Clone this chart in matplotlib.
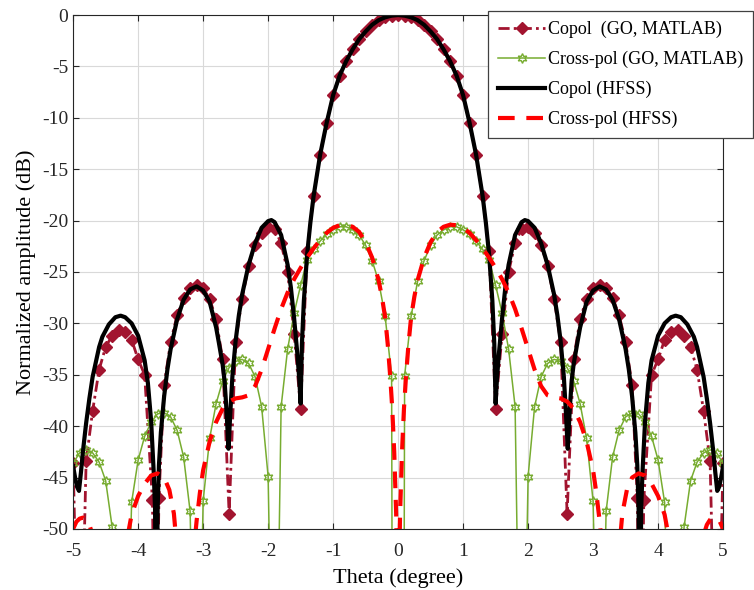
import numpy as np
import matplotlib.pyplot as plt

plt.rcParams['font.family'] = ['Liberation Serif', 'DejaVu Serif']

# GO (MATLAB) copol pattern
go_co_theta = [-5.0, -4.9, -4.8, -4.7, -4.6, -4.5, -4.4, -4.3, -4.2, -4.1, -4.0, -3.9,
               -3.78, -3.73, -3.68, -3.6, -3.5, -3.4, -3.3, -3.2, -3.1, -3.0, -2.9, -2.8,
               -2.7, -2.6, -2.5, -2.4, -2.3, -2.2, -2.1, -2.0, -1.9, -1.8, -1.7, -1.6,
               -1.5, -1.4, -1.3, -1.2, -1.1, -1.0, -0.9, -0.8, -0.7, -0.6, -0.5, -0.4,
               -0.3, -0.2, -0.1, 0.0, 0.1, 0.2, 0.3, 0.4, 0.5, 0.6, 0.7, 0.8, 0.9, 1.0,
               1.1, 1.2, 1.3, 1.4, 1.5, 1.6, 1.7, 1.8, 1.9, 2.0, 2.1, 2.2, 2.3, 2.4, 2.5,
               2.6, 2.7, 2.8, 2.9, 3.0, 3.1, 3.2, 3.3, 3.4, 3.5, 3.6, 3.68, 3.73, 3.78,
               3.9, 4.0, 4.1, 4.2, 4.3, 4.4, 4.5, 4.6, 4.7, 4.8, 4.9, 5.0]
go_co_db = [-43.6, -70, -43.4, -38.5, -34.5, -32.3, -31.2, -30.6, -30.8, -31.6, -33.5, -35.0,
            -47.2, -70, -47.0, -36.0, -31.8, -29.2, -27.5, -26.6, -26.3, -26.6, -27.6, -29.6,
            -33.5, -48.5, -31.8, -27.6, -24.4, -22.4, -21.2, -20.6, -20.8, -22.2, -25.0, -31.0,
            -38.3, -23.0, -17.6, -13.6, -10.5, -7.8, -5.9, -4.5, -3.35, -2.35, -1.6, -0.95,
            -0.5, -0.22, -0.06, 0.0, -0.06, -0.22, -0.5, -0.95, -1.6, -2.35, -3.35, -4.5, -5.9, -7.8,
            -10.5, -13.6, -17.6, -23.0, -38.3, -31.0, -25.0, -22.2, -20.8, -20.6, -21.2, -22.4, -24.4, -27.6, -31.8,
            -48.5, -33.5, -29.6, -27.6, -26.6, -26.3, -26.6, -27.5, -29.2, -31.8, -36.0, -47.0, -70, -47.2,
            -35.0, -33.5, -31.6, -30.8, -30.6, -31.2, -32.3, -34.5, -38.5, -43.4, -70, -43.6]

# GO (MATLAB) cross-pol pattern
go_x_theta = [-5.0, -4.9, -4.8, -4.7, -4.6, -4.5, -4.4, -4.3, -4.2, -4.1, -4.0, -3.9, -3.8,
              -3.7, -3.6, -3.5, -3.4, -3.3, -3.2, -3.1, -3.0, -2.9, -2.8, -2.7, -2.6, -2.5,
              -2.4, -2.3, -2.2, -2.1, -2.0, -1.9, -1.8, -1.7, -1.6, -1.5, -1.4, -1.3, -1.2,
              -1.1, -1.0, -0.9, -0.8, -0.7, -0.6, -0.5, -0.4, -0.3, -0.2, -0.1, 0.0,
              0.1, 0.2, 0.3, 0.4, 0.5, 0.6, 0.7, 0.8, 0.9, 1.0, 1.1, 1.2, 1.3, 1.4, 1.5,
              1.6, 1.7, 1.8, 1.9, 2.0, 2.1, 2.2, 2.3, 2.4, 2.5, 2.6, 2.7, 2.8, 2.9, 3.0,
              3.1, 3.2, 3.3, 3.4, 3.5, 3.6, 3.7, 3.8, 3.9, 4.0, 4.1, 4.2, 4.3, 4.4, 4.5,
              4.6, 4.7, 4.8, 4.9, 5.0]
go_x_db = [-43.6, -42.6, -42.3, -42.6, -43.5, -45.3, -49.8, -60, -70, -47.4, -43.3, -41.0, -39.6,
           -38.8, -38.7, -39.1, -40.4, -43.0, -48.3, -80, -47.3, -41.2, -37.8, -35.6, -34.3, -33.7,
           -33.5, -33.9, -35.2, -38.1, -44.9, -80, -38.1, -32.5, -29.0, -26.3, -23.8, -22.8, -22.0,
           -21.3, -20.9, -20.6, -20.6, -20.9, -21.4, -22.4, -23.9, -25.9, -29.3, -35.1, -300,
           -35.1, -29.3, -25.9, -23.9, -22.4, -21.4, -20.9, -20.6, -20.6, -20.9, -21.3, -22.0, -22.8, -23.8, -26.3,
           -29.0, -32.5, -38.1, -80, -44.9, -38.1, -35.2, -33.9, -33.5, -33.7, -34.3, -35.6, -37.8, -41.2, -47.3,
           -80, -48.3, -43.0, -40.4, -39.1, -38.7, -38.8, -39.6, -41.0, -43.3, -47.4, -70, -60, -49.8, -45.3,
           -43.5, -42.6, -42.3, -42.6, -43.6]

# HFSS copol pattern
hf_co_theta = [-5.0, -4.97, -4.94, -4.91, -4.88, -4.85, -4.8, -4.75, -4.7, -4.6, -4.55, -4.45,
               -4.35, -4.27, -4.2, -4.1, -4.0, -3.9, -3.85, -3.8, -3.76, -3.74, -3.72, -3.7,
               -3.68, -3.65, -3.6, -3.55, -3.5, -3.4, -3.3, -3.2, -3.1, -3.0, -2.9, -2.8,
               -2.76, -2.7, -2.67, -2.64, -2.61, -2.58, -2.55, -2.5, -2.45, -2.4, -2.3, -2.2,
               -2.1, -2.0, -1.95, -1.9, -1.8, -1.7, -1.65, -1.6, -1.55, -1.52, -1.5, -1.48,
               -1.45, -1.4, -1.35, -1.3, -1.2, -1.1, -1.0, -0.9, -0.8, -0.7, -0.6, -0.5,
               -0.4, -0.3, -0.2, -0.1, 0.0, 0.1, 0.2, 0.3, 0.4, 0.5, 0.6, 0.7, 0.8, 0.9,
               1.0, 1.1, 1.2, 1.3, 1.35, 1.4, 1.45, 1.48, 1.5, 1.52, 1.55, 1.6, 1.65, 1.7,
               1.8, 1.9, 1.95, 2.0, 2.1, 2.2, 2.3, 2.4, 2.45, 2.5, 2.55, 2.58, 2.61, 2.64,
               2.67, 2.7, 2.76, 2.8, 2.9, 3.0, 3.1, 3.2, 3.3, 3.4, 3.5, 3.55, 3.6, 3.65,
               3.68, 3.7, 3.72, 3.74, 3.76, 3.8, 3.85, 3.9, 4.0, 4.1, 4.2, 4.27, 4.35, 4.45,
               4.55, 4.6, 4.7, 4.75, 4.8, 4.85, 4.88, 4.91, 4.94, 4.97, 5.0]
hf_co_db = [-43.9, -45.0, -45.9, -46.3, -44.5, -42.5, -39.7, -37.3, -35.2, -32.3, -31.3, -30.1,
            -29.4, -29.25, -29.4, -30.0, -31.2, -33.6, -35.8, -39.5, -44.5, -48, -62, -48,
            -43.8, -40.6, -37.1, -34.5, -32.5, -29.6, -27.7, -26.7, -26.4, -26.8, -27.9, -30.4,
            -31.8, -34.0, -35.6, -38.5, -42.2, -38.5, -35.2, -31.7, -29.2, -27.2, -24.3, -22.2,
            -20.7, -20.05, -19.95, -20.15, -21.4, -24.3, -26.5, -29.5, -33.0, -35.5, -37.8, -32.0,
            -27.8, -23.3, -20.2, -17.6, -13.6, -10.5, -7.8, -5.9, -4.5, -3.35, -2.35, -1.6,
            -0.95, -0.5, -0.22, -0.06, 0.0, -0.06, -0.22, -0.5, -0.95, -1.6, -2.35, -3.35, -4.5, -5.9,
            -7.8, -10.5, -13.6, -17.6, -20.2, -23.3, -27.8, -32.0, -37.8, -35.5, -33.0, -29.5, -26.5, -24.3,
            -21.4, -20.15, -19.95, -20.05, -20.7, -22.2, -24.3, -27.2, -29.2, -31.7, -35.2, -38.5, -42.2, -38.5,
            -35.6, -34.0, -31.8, -30.4, -27.9, -26.8, -26.4, -26.7, -27.7, -29.6, -32.5, -34.5, -37.1, -40.6,
            -43.8, -48, -62, -48, -44.5, -39.5, -35.8, -33.6, -31.2, -30.0, -29.4, -29.25, -29.4, -30.1,
            -31.3, -32.3, -35.2, -37.3, -39.7, -42.5, -44.5, -46.3, -45.9, -45.0, -43.9]

# HFSS cross-pol pattern
hf_x_theta = [-5.0, -4.95, -4.9, -4.85, -4.8, -4.75, -4.7, -4.6, -4.4, -4.2, -4.15, -4.1,
              -4.0, -3.9, -3.8, -3.7, -3.6, -3.52, -3.45, -3.38, -3.3, -3.2, -3.15, -3.1,
              -3.05, -3.0, -2.9, -2.8, -2.7, -2.6, -2.5, -2.4, -2.3, -2.2, -2.1, -2.0,
              -1.9, -1.8, -1.7, -1.6, -1.5, -1.4, -1.3, -1.2, -1.1, -1.0, -0.9, -0.8,
              -0.7, -0.6, -0.5, -0.4, -0.3, -0.25, -0.2, -0.16, -0.12, -0.09, -0.06, -0.03,
              0.0, 0.03, 0.06, 0.09, 0.12, 0.16, 0.2, 0.25, 0.3, 0.4, 0.5, 0.6, 0.7, 0.8,
              0.9, 1.0, 1.1, 1.2, 1.3, 1.4, 1.5, 1.6, 1.7, 1.8, 1.9, 2.0, 2.1, 2.2, 2.3,
              2.4, 2.5, 2.6, 2.7, 2.8, 2.9, 3.0, 3.05, 3.1, 3.15, 3.2, 3.3, 3.38, 3.45,
              3.52, 3.6, 3.7, 3.8, 3.9, 4.0, 4.1, 4.15, 4.2, 4.4, 4.6, 4.7, 4.75, 4.8,
              4.85, 4.9, 4.95, 5.0]
hf_x_db = [-50.0, -49.3, -49.0, -48.9, -49.1, -49.6, -50.6, -56, -60, -53, -50.3, -48.6,
           -46.8, -45.6, -44.8, -44.6, -45.0, -46.2, -48.5, -53.5, -62, -57, -52.5, -49.2,
           -46.5, -44.3, -41.5, -39.6, -38.3, -37.6, -37.3, -37.2, -37.0, -36.1, -34.5, -32.5,
           -30.5, -28.6, -27.0, -25.7, -24.6, -23.6, -22.7, -21.9, -21.2, -20.7, -20.45, -20.4,
           -20.6, -21.1, -22.1, -23.6, -25.8, -27.4, -29.4, -32.0, -35.3, -38.3, -42.5, -48.5,
           -60, -48.5, -42.5, -38.3, -35.3, -32.0, -29.4, -27.4, -25.8, -23.6, -22.1, -21.1, -20.6, -20.4,
           -20.45, -20.7, -21.2, -21.9, -22.7, -23.6, -24.6, -25.7, -27.0, -28.6, -30.5, -32.5, -34.5, -36.1, -37.0,
           -37.2, -37.3, -37.6, -38.3, -39.6, -41.5, -44.3, -46.5, -49.2, -52.5, -57, -62, -53.5, -48.5,
           -46.2, -45.0, -44.6, -44.8, -45.6, -46.8, -48.6, -50.3, -53, -60, -56, -50.6, -49.6, -49.1,
           -48.9, -49.0, -49.3, -50.0]

x_ticks = [-5, -4, -3, -2, -1, 0, 1, 2, 3, 4, 5]
y_ticks = [0, -5, -10, -15, -20, -25, -30, -35, -40, -45, -50]

fig = plt.figure(figsize=(7.54, 5.9), dpi=100)
ax = fig.add_axes([0.097, 0.1035, 0.862, 0.871])

ax.plot(go_co_theta, go_co_db, color='#A2142F', lw=2.0, ls=(0, (4, 1.5, 1, 1.5)),
        marker='D', ms=6.5, mfc='#A2142F', mec='#A2142F', label='Copol  (GO, MATLAB)')
ax.plot(go_x_theta, go_x_db, color='#77AC30', lw=1.1, marker=(6, 1, 0), ms=7,
        mfc='none', mec='#77AC30', mew=1.0, label='Cross-pol (GO, MATLAB)')
ax.plot(hf_co_theta, hf_co_db, color='k', lw=3.0, label='Copol (HFSS)')
ax.plot(hf_x_theta, hf_x_db, color='#FF0000', lw=3.0, dashes=(4, 2.8),
        label='Cross-pol (HFSS)')

ax.set_xlim(-5, 5)
ax.set_ylim(-50, 0)
ax.set_xticks(x_ticks)
ax.set_yticks(y_ticks)
ax.set_xticklabels([str(t) for t in x_ticks])
ax.set_yticklabels([str(t) for t in y_ticks])
ax.tick_params(direction='in', top=True, right=True, length=4, labelsize=14,
               color='#262626', labelcolor='#262626')
ax.tick_params(axis='x', pad=10)
ax.grid(True, color='#d9d9d9', lw=0.8)
ax.set_axisbelow(True)
for sp in ax.spines.values():
    sp.set_color('#262626')
    sp.set_linewidth(0.8)

ax.set_xlabel('Theta (degree)', fontsize=16, labelpad=6)
ax.set_ylabel('Normalized amplitude (dB)', fontsize=16)

leg = ax.legend(loc='upper right', bbox_to_anchor=(0.9985, 0.981),
                bbox_transform=fig.transFigure, fontsize=13, handlelength=2.6,
                labelspacing=0.7, fancybox=False, framealpha=1, borderaxespad=0,
                borderpad=0.55, handletextpad=0.15)
leg.get_frame().set_edgecolor('#404040')
leg.get_frame().set_linewidth(0.9)

fig.savefig('out.png', dpi=100)
